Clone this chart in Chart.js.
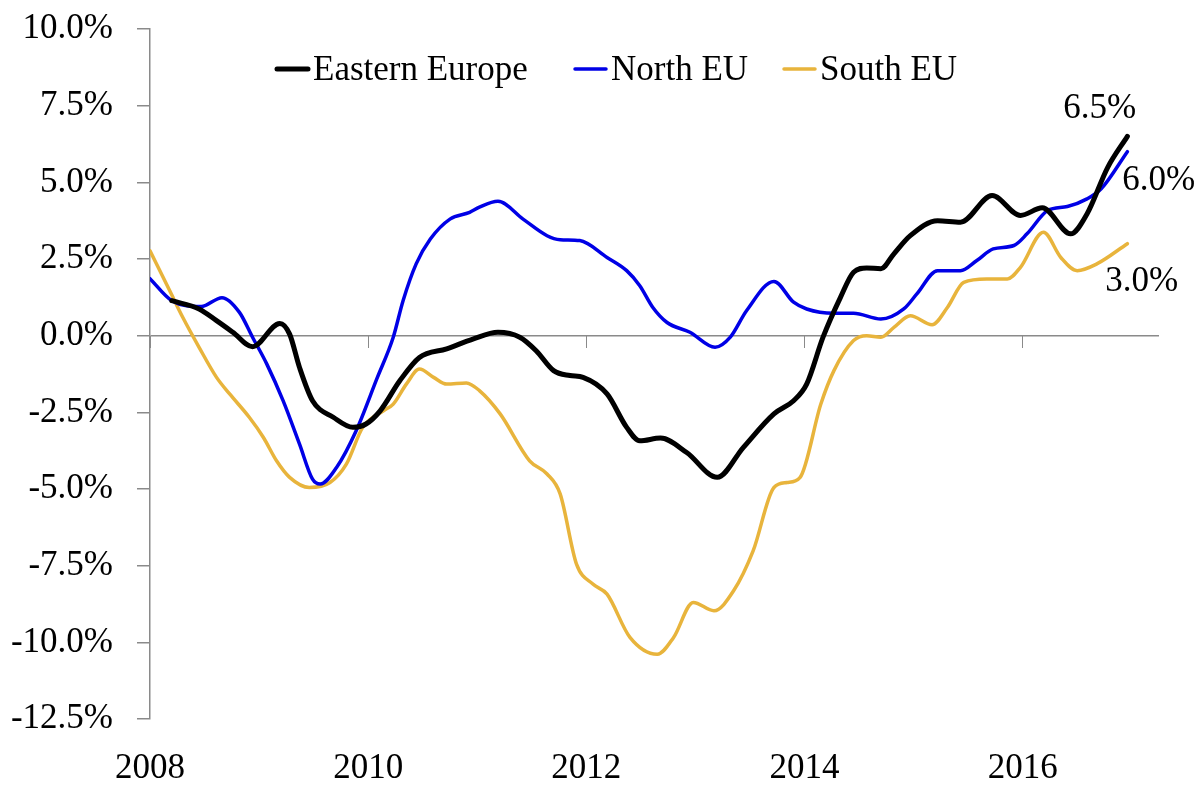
<!DOCTYPE html>
<html>
<head>
<meta charset="utf-8">
<script src="https://cdn.jsdelivr.net/npm/chart.js@4.4.1/dist/chart.umd.min.js"></script>
<style>
  html, body { margin: 0; padding: 0; background: #ffffff; }
  #wrap { width: 1199px; height: 785px; }
</style>
</head>
<body>
<div id="wrap"><canvas id="c" width="1199" height="785"></canvas></div>
<script>
// ---- data (decimal years, % values) ----
const seriesNames = ['Eastern Europe', 'North EU', 'South EU'];
const seriesColors = ['#000000', '#0000E6', '#E8B43C'];
const endLabels = ['6.5%', '6.0%', '3.0%'];
const xTickYears = [2008, 2010, 2012, 2014, 2016];

const eeYears = [2008.20, 2008.45, 2008.61, 2008.76, 2008.94, 2009.19, 2009.28, 2009.37, 2009.49, 2009.68, 2009.86, 2009.98, 2010.11, 2010.29, 2010.47, 2010.72, 2010.96, 2011.19, 2011.39, 2011.54, 2011.70, 2011.85, 2011.97, 2012.19, 2012.37, 2012.49, 2012.68, 2012.92, 2013.20, 2013.44, 2013.72, 2013.90, 2014.02, 2014.17, 2014.33, 2014.45, 2014.57, 2014.70, 2014.82, 2014.97, 2015.22, 2015.43, 2015.72, 2015.98, 2016.18, 2016.44, 2016.59, 2016.78, 2016.96];
const eeValues = [1.14, 0.87, 0.49, 0.11, -0.36, 0.40, 0.05, -1.03, -2.12, -2.66, -2.99, -2.88, -2.45, -1.47, -0.71, -0.43, -0.11, 0.11, -0.05, -0.49, -1.14, -1.30, -1.36, -1.90, -2.99, -3.43, -3.34, -3.81, -4.62, -3.64, -2.55, -2.12, -1.58, -0.05, 1.25, 2.07, 2.21, 2.18, 2.67, 3.26, 3.75, 3.70, 4.57, 3.92, 4.17, 3.32, 3.97, 5.49, 6.50];

const neYears = [2008.00, 2008.20, 2008.47, 2008.66, 2008.82, 2008.94, 2009.07, 2009.22, 2009.37, 2009.49, 2009.56, 2009.71, 2009.89, 2010.08, 2010.23, 2010.32, 2010.44, 2010.57, 2010.75, 2010.93, 2011.02, 2011.19, 2011.42, 2011.64, 2011.76, 2011.94, 2012.19, 2012.37, 2012.49, 2012.61, 2012.74, 2012.95, 2013.18, 2013.32, 2013.47, 2013.72, 2013.90, 2014.02, 2014.27, 2014.45, 2014.70, 2014.91, 2015.03, 2015.22, 2015.43, 2015.58, 2015.73, 2015.92, 2016.04, 2016.23, 2016.41, 2016.59, 2016.72, 2016.96];
const neValues = [1.86, 1.14, 0.95, 1.24, 0.76, -0.05, -0.92, -2.12, -3.53, -4.68, -4.84, -4.30, -3.10, -1.40, -0.05, 1.14, 2.34, 3.15, 3.80, 4.02, 4.19, 4.38, 3.80, 3.26, 3.13, 3.10, 2.55, 2.12, 1.63, 0.92, 0.43, 0.11, -0.38, -0.05, 0.82, 1.77, 1.09, 0.87, 0.73, 0.73, 0.54, 0.87, 1.36, 2.12, 2.12, 2.45, 2.83, 2.94, 3.32, 4.08, 4.21, 4.46, 4.79, 6.00];

const soYears = [2008.00, 2008.18, 2008.30, 2008.45, 2008.61, 2008.73, 2008.91, 2009.04, 2009.16, 2009.28, 2009.46, 2009.65, 2009.80, 2009.95, 2010.14, 2010.23, 2010.35, 2010.47, 2010.60, 2010.72, 2010.90, 2011.02, 2011.21, 2011.48, 2011.64, 2011.76, 2011.91, 2012.06, 2012.19, 2012.40, 2012.65, 2012.80, 2012.98, 2013.17, 2013.35, 2013.53, 2013.72, 2013.84, 2013.96, 2014.15, 2014.27, 2014.45, 2014.57, 2014.70, 2014.82, 2014.97, 2015.17, 2015.31, 2015.46, 2015.67, 2015.86, 2015.98, 2016.19, 2016.35, 2016.50, 2016.68, 2016.96];
const soValues = [2.77, 1.47, 0.60, -0.38, -1.36, -1.90, -2.66, -3.32, -4.08, -4.62, -4.95, -4.79, -4.19, -2.99, -2.45, -2.23, -1.58, -1.09, -1.36, -1.58, -1.54, -1.79, -2.55, -4.08, -4.51, -5.16, -7.45, -8.10, -8.43, -9.84, -10.39, -9.84, -8.70, -8.97, -8.32, -7.01, -4.95, -4.79, -4.62, -2.23, -1.14, -0.16, 0.00, -0.05, 0.27, 0.65, 0.36, 0.92, 1.74, 1.85, 1.85, 2.23, 3.37, 2.55, 2.12, 2.34, 3.00];

// ---- styling ----
const FONT = "'Liberation Serif', 'Times New Roman', serif";
const FONT_SIZE = 35;
const AXIS_GRAY = '#8a8a8a';
const X_MIN = 2008, X_MAX = 2017.25;
const Y_MIN = -12.5, Y_MAX = 10, Y_STEP = 2.5;

function pts(xs, ys) { return xs.map((x, i) => ({ x: x, y: ys[i] })); }

// legend drawn inside plot area (positions chosen to match layout)
const legendItemX = [275, 573, 782];
const legendBaseline = 80;
const legendLineY = 69;
const insideLegend = {
  id: 'insideLegend',
  afterDraw(chart) {
    const ctx = chart.ctx;
    ctx.save();
    ctx.font = FONT_SIZE + 'px ' + FONT;
    ctx.fillStyle = '#000';
    ctx.textBaseline = 'alphabetic';
    ctx.textAlign = 'left';
    chart.data.datasets.forEach((ds, i) => {
      const x = legendItemX[i];
      ctx.strokeStyle = ds.borderColor;
      ctx.lineWidth = ds.borderWidth;
      ctx.lineCap = 'round';
      ctx.beginPath();
      ctx.moveTo(x + 2, legendLineY);
      ctx.lineTo(x + 33, legendLineY);
      ctx.stroke();
      ctx.fillText(ds.label, x + 38, legendBaseline);
    });
    ctx.restore();
  }
};

// end-of-line value labels, offsets relative to the last point
const endLabelOffsets = [[-64, -18], [-5, 38], [-22, 47]];
const endLabelPlugin = {
  id: 'endLabels',
  afterDatasetsDraw(chart) {
    const ctx = chart.ctx;
    ctx.save();
    ctx.font = FONT_SIZE + 'px ' + FONT;
    ctx.fillStyle = '#000';
    ctx.textBaseline = 'alphabetic';
    ctx.textAlign = 'left';
    chart.data.datasets.forEach((ds, i) => {
      const meta = chart.getDatasetMeta(i);
      const last = meta.data[meta.data.length - 1];
      if (!last) return;
      ctx.fillText(endLabels[i], last.x + endLabelOffsets[i][0], last.y + endLabelOffsets[i][1]);
    });
    ctx.restore();
  }
};

function setYearTicks(scale) {
  scale.ticks = xTickYears.map(v => ({ value: v }));
}
function noPad(s) {
  s.paddingTop = 0; s.paddingBottom = 0; s.paddingLeft = 0; s.paddingRight = 0;
}

const ctx = document.getElementById('c').getContext('2d');
new Chart(ctx, {
  type: 'line',
  data: {
    datasets: [
      { label: seriesNames[0], data: pts(eeYears, eeValues), borderColor: seriesColors[0], borderWidth: 5 },
      { label: seriesNames[1], data: pts(neYears, neValues), borderColor: seriesColors[1], borderWidth: 3.5 },
      { label: seriesNames[2], data: pts(soYears, soValues), borderColor: seriesColors[2], borderWidth: 3.5 }
    ]
  },
  options: {
    responsive: false,
    animation: false,
    devicePixelRatio: 1,
    datasets: {
      line: {
        pointRadius: 0,
        pointHoverRadius: 0,
        fill: false,
        cubicInterpolationMode: 'monotone',
        borderCapStyle: 'round',
        borderJoinStyle: 'round'
      }
    },
    layout: { padding: { top: 29, right: 40, left: 0, bottom: 0 } },
    plugins: {
      legend: { display: false },
      tooltip: { enabled: false },
      title: { display: false }
    },
    scales: {
      x: {
        type: 'linear',
        position: 'bottom',
        min: X_MIN,
        max: X_MAX,
        afterBuildTicks: setYearTicks,
        afterFit: (s) => { s.height = 66; noPad(s); },
        grid: { display: false, drawTicks: false, drawOnChartArea: false },
        border: { display: false },
        ticks: {
          autoSkip: false,
          maxRotation: 0,
          padding: 29,
          color: '#000',
          font: { family: FONT, size: FONT_SIZE },
          callback: (v) => String(v)
        }
      },
      xZero: {
        type: 'linear',
        position: { y: 0 },
        min: X_MIN,
        max: X_MAX,
        afterBuildTicks: setYearTicks,
        afterFit: (s) => { s.height = 0; noPad(s); },
        grid: { display: true, drawOnChartArea: false, drawTicks: true, tickLength: 12, color: AXIS_GRAY, tickColor: AXIS_GRAY },
        border: { display: false },
        ticks: { display: false }
      },
      y: {
        type: 'linear',
        position: 'left',
        min: Y_MIN,
        max: Y_MAX,
        afterFit: (s) => { s.width = 150; noPad(s); },
        ticks: {
          stepSize: Y_STEP,
          padding: 24,
          color: '#000',
          font: { family: FONT, size: FONT_SIZE },
          callback: (v) => Number(v).toFixed(1) + '%'
        },
        grid: {
          drawTicks: true,
          tickLength: 13,
          tickColor: AXIS_GRAY,
          color: (c) => (c.tick && c.tick.value === 0 ? AXIS_GRAY : 'rgba(0,0,0,0)'),
          lineWidth: 1.5
        },
        border: { display: true, color: AXIS_GRAY, width: 1.5 }
      }
    }
  },
  plugins: [endLabelPlugin, insideLegend]
});
</script>
</body>
</html>
